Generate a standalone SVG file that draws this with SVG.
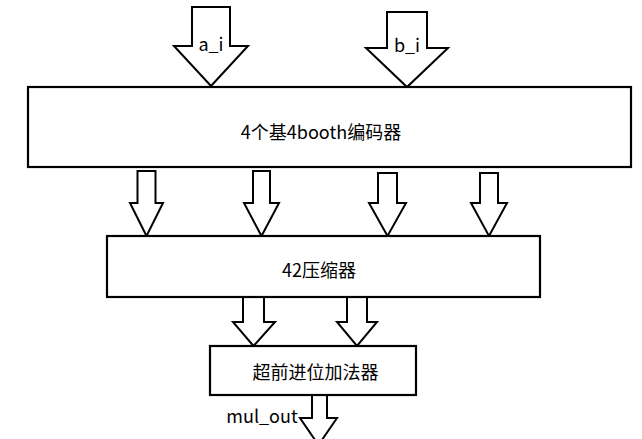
<svg xmlns="http://www.w3.org/2000/svg" width="642" height="439" viewBox="0 0 642 439">
<style>
.box{fill:#fff;stroke:#000;stroke-width:2.2}
.arr{fill:#fff;stroke:#000;stroke-width:2;stroke-linejoin:miter}
.t{font-family:"Noto Sans CJK SC","Noto Sans",sans-serif;font-size:18px;fill:#000}
.c{text-anchor:middle;dominant-baseline:central}
</style>
<rect width="642" height="439" fill="#fff"/>
<g id="connectors">
<polygon class="arr" points="192,7 230,7 230,46 248,46 211,86 174,46 192,46"/>
<polygon class="arr" points="387,12 427,12 427,48 448,48 407,87 366,48 387,48"/>
<polygon class="arr" points="137.5,171 155.5,171 155.5,203 163,203 146.5,236 130,203 137.5,203"/>
<polygon class="arr" points="253,171 270,171 270,203 279,203 261.5,236 244,203 253,203"/>
<polygon class="arr" points="378,173 397,173 397,203 406,203 387.5,236 369,203 378,203"/>
<polygon class="arr" points="480,173 498,173 498,203 507,203 489,236 471,203 480,203"/>
<polygon class="arr" points="243,296 264,296 264,322 275,322 253.5,346 233,322 243,322"/>
<polygon class="arr" points="347,296 367,296 367,322 377,322 357,346 337,322 347,322"/>
<polygon class="arr" points="312,395 327,395 327,418 337,418 318.5,445 300,418 312,418"/>
</g>
<g id="label-a_i"><text class="t" x="211" y="51" text-anchor="middle">a_i</text></g>
<g id="label-b_i"><text class="t" x="407" y="52" text-anchor="middle">b_i</text></g>
<g id="label-mul_out"><text class="t" x="262" y="423" text-anchor="middle">mul_out</text></g>
<g id="booth-encoder">
<rect class="box" x="28" y="87" width="603" height="80"/>
<text class="t c" x="321" y="131">4个基4booth编码器</text>
</g>
<g id="compressor">
<rect class="box" x="107" y="236" width="433" height="61"/>
<text class="t c" x="319" y="269">42压缩器</text>
</g>
<g id="cla-adder">
<rect class="box" x="210" y="346" width="206" height="49"/>
<text class="t c" x="315.5" y="371">超前进位加法器</text>
</g>
</svg>
